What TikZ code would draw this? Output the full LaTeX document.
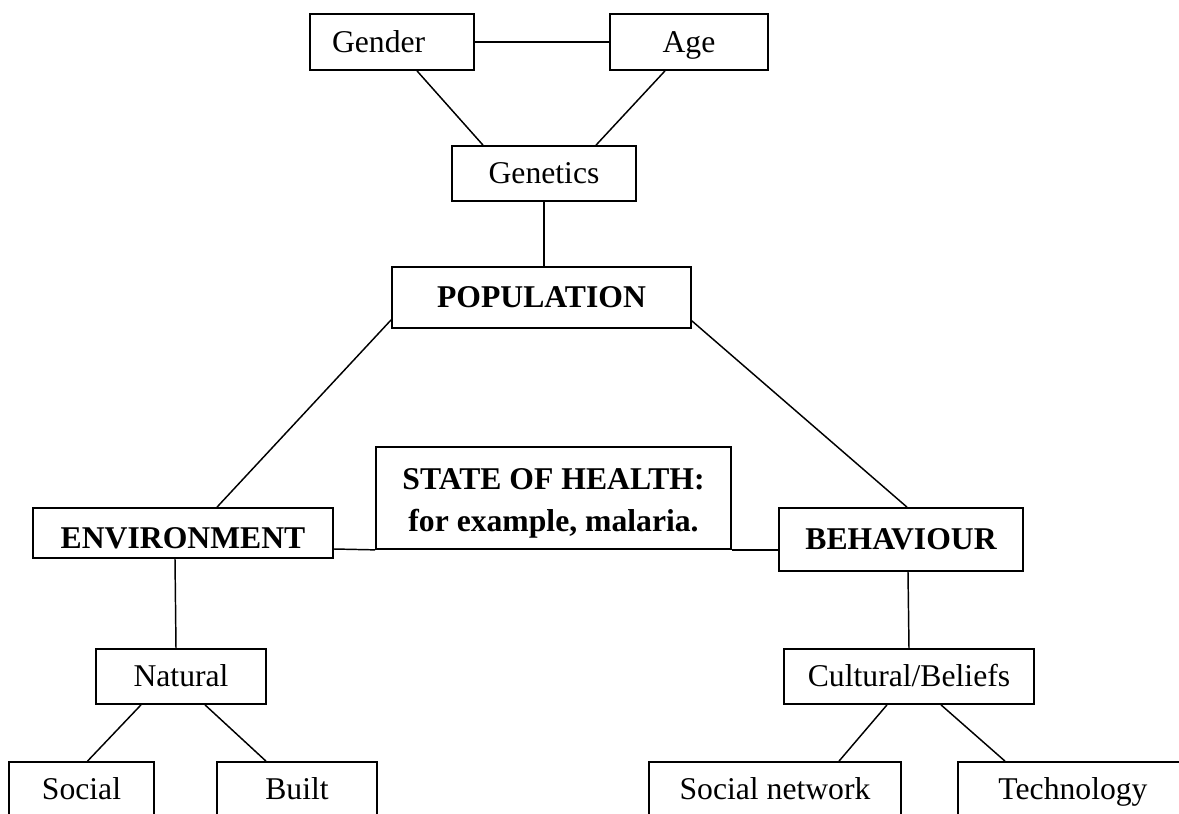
\documentclass[tikz,border=0pt]{standalone}
\usepackage{fontspec}
\setmainfont{Liberation Serif}
\usepackage{tikz}
\usetikzlibrary{calc}
\newcommand{\boxfont}{\fontsize{23.75}{31.5}\selectfont}

\begin{document}
\begin{tikzpicture}[x=0.75pt,y=-0.75pt,font=\boxfont,
  box/.style={draw,line width=1.3pt,inner sep=0pt,align=center,minimum height=41.25pt,text height=15.7pt,text depth=0pt},
  boldbox/.style={box,font=\boxfont\bfseries},
  link/.style={line width=1.1pt}]
\clip (0,0) rectangle (1179,814);
\node[box,minimum width=123pt,minimum height=42pt,inner xsep=16.5pt,text width=90pt,align=left] (gender) at (392,42) {Gender};
\node[box,minimum width=118.5pt,minimum height=42pt] (age) at (689,42) {Age};
\node[box,minimum width=138pt] (genetics) at (544,173.5) {Genetics};
\node[boldbox,minimum width=224.25pt,minimum height=45.75pt] (population) at (541.5,297.5) {POPULATION};
\node[boldbox,minimum width=266.25pt,minimum height=76.5pt,text height=,text depth=] (state) at (553.5,498) {\rule{0pt}{24pt}STATE OF HEALTH:\\for example, malaria.};
\node[boldbox,minimum width=225pt,minimum height=37.5pt,text height=23.2pt] (environment) at (183,533) {ENVIRONMENT};
\node[boldbox,minimum width=183pt,minimum height=47.25pt] (behaviour) at (901,539.5) {BEHAVIOUR};
\node[box,minimum width=127.5pt] (natural) at (181,676.5) {Natural};
\node[box,minimum width=187.5pt] (cultural) at (909,676.5) {Cultural/Beliefs};
\node[box,minimum width=108.75pt] (social) at (81.5,789.5) {Social};
\node[box,minimum width=120pt] (built) at (297,789.5) {Built};
\node[box,minimum width=189pt] (socialnet) at (775,789.5) {Social network};
\node[box,minimum width=172.5pt] (technology) at (1073,789.5) {Technology};

\draw[link] (gender) -- (age);
\draw[link] ($(gender.south)+(25,0)$) -- ($(genetics.north)+(-61,0)$);
\draw[link] ($(age.south)+(-24,0)$) -- ($(genetics.north)+(52,0)$);
\draw[link] (genetics.south) -- (genetics.south |- population.north);
\draw[link] ($(population.south west)+(0,-9)$) -- ($(environment.north)+(34,0)$);
\draw[link] ($(population.south east)+(0,-8)$) -- ($(behaviour.north)+(6,0)$);
\draw[link] ($(environment.east)+(0,16)$) -- (state.south west);
\draw[link] (state.south east) -- (state.south east -| behaviour.west);
\draw[link] ($(environment.south)+(-8,0)$) -- ($(natural.north)+(-5,0)$);
\draw[link] ($(natural.south)+(-40,0)$) -- ($(social.north)+(6,0)$);
\draw[link] ($(natural.south)+(24,0)$) -- ($(built.north)+(-31,0)$);
\draw[link] ($(behaviour.south)+(7,0)$) -- (cultural.north);
\draw[link] ($(cultural.south)+(-22,0)$) -- ($(socialnet.north)+(64,0)$);
\draw[link] ($(cultural.south)+(32,0)$) -- ($(technology.north)+(-68,0)$);
\end{tikzpicture}
\end{document}
